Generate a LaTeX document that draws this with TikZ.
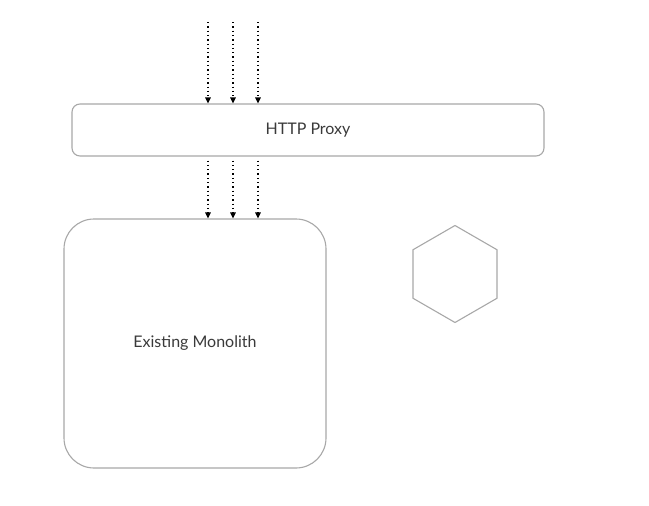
\documentclass[tikz,border=0pt]{standalone}
\usepackage{fontspec}
\setmainfont{Lato}
\usetikzlibrary{arrows.meta,positioning,shapes.geometric}

\definecolor{boxline}{HTML}{A8A8A8}
\definecolor{labeltext}{HTML}{3A3A3A}

\begin{document}
\begin{tikzpicture}[
		x=1pt,y=-1pt,
		>={Triangle[width=5.5pt,length=6pt]},
		box/.style={draw=boxline,line width=1.1pt,fill=white,text=labeltext,font=\fontsize{16}{18}\selectfont},
		call/.style={->,dash pattern=on 1.3pt off 3pt,line width=1.3pt,black}]

	\useasboundingbox (0,0) rectangle (649,506);

	\node[box,rounded corners=8pt,minimum width=472pt,minimum height=52pt] (proxy) at (308,130) {HTTP Proxy};
	\node[box,rounded corners=30pt,minimum width=262pt,minimum height=249pt] (monolith) at (195,343.5) {\raisebox{-3pt}{Existing Monolith}};
	\node[draw=boxline,line width=1.1pt,regular polygon,regular polygon sides=6,shape border rotate=30,inner sep=0pt,minimum size=97pt] (service) at (455,274) {};

	\foreach \i/\x in {1/208,2/233,3/258} {
		\coordinate (in\i) at (\x,22);
		\draw[call] (in\i) -- (in\i |- proxy.north);
		\draw[call] (in\i |- proxy.south) ++(0,4) -- (in\i |- monolith.north);
	}
\end{tikzpicture}
\end{document}
